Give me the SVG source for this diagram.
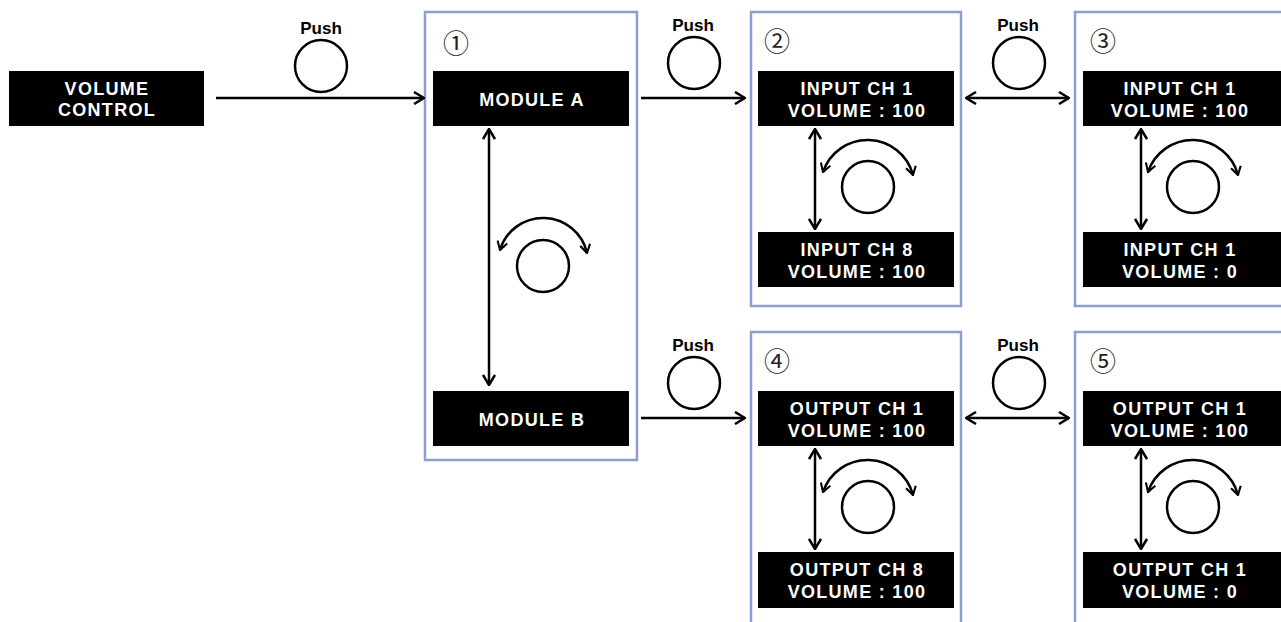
<svg xmlns="http://www.w3.org/2000/svg" width="1281" height="622" viewBox="0 0 1281 622">
<style>
.frame{fill:#fff;stroke:#8C9ECF;stroke-width:2.5}
.blk{fill:#000}
.wt{fill:#fff;font-family:"Liberation Sans",Arial,sans-serif;font-weight:700;font-size:18px;letter-spacing:1.3px;text-anchor:middle}
.push{fill:#000;font-family:"Liberation Sans",Arial,sans-serif;font-weight:700;font-size:17px;text-anchor:middle}
.num{fill:#222;font-family:"Noto Sans CJK KR","DejaVu Sans",sans-serif;font-size:26px;text-anchor:middle}
.knob{fill:none;stroke:#000;stroke-width:2.5}
.ln{fill:none;stroke:#000;stroke-width:2.5}
</style>
<defs>
<marker id="ah" viewBox="0 0 12 14" refX="11" refY="7" markerWidth="12" markerHeight="14" markerUnits="userSpaceOnUse" orient="auto-start-reverse">
<path d="M1,1 L11,7 L1,13" fill="none" stroke="#000" stroke-width="2.5" stroke-linejoin="miter"/>
</marker>
<marker id="ahs" viewBox="0 0 12 14" refX="11" refY="7" markerWidth="10" markerHeight="12" markerUnits="userSpaceOnUse" orient="auto-start-reverse">
<path d="M1,1 L11,7 L1,13" fill="none" stroke="#000" stroke-width="2.5"/>
</marker>
</defs>
<rect width="1281" height="622" fill="#fff"/>

<g id="volume-control">
<rect class="blk" x="9" y="71" width="195" height="55"/>
<text class="wt" x="107" y="95">VOLUME</text>
<text class="wt" x="107" y="116">CONTROL</text>
</g>

<g id="panel-1">
<rect class="frame" x="425" y="12" width="212" height="448"/>
<text class="num" x="456" y="53">①</text>
<g id="module-a">
<rect class="blk" x="433" y="71" width="196" height="55"/>
<text class="wt" x="532" y="105.5">MODULE A</text>
</g>
<g id="module-b">
<rect class="blk" x="433" y="391" width="196" height="55"/>
<text class="wt" x="532" y="425.5">MODULE B</text>
</g>
<circle class="knob" cx="543" cy="266" r="26"/>
<path class="ln" d="M500 250 A45 45 0 0 1 587 253" marker-start="url(#ahs)" marker-end="url(#ahs)"/>
</g>

<g id="panel-2">
<rect class="frame" x="751" y="12" width="210" height="294"/>
<text class="num" x="777" y="51">②</text>
<rect class="blk" x="758" y="71" width="196" height="55"/>
<text class="wt" x="857" y="95">INPUT CH 1</text>
<text class="wt" x="857" y="116.5">VOLUME : 100</text>
<rect class="blk" x="758" y="232" width="196" height="55"/>
<text class="wt" x="857" y="256">INPUT CH 8</text>
<text class="wt" x="857" y="277.5">VOLUME : 100</text>
<circle class="knob" cx="868" cy="187" r="26"/>
<path class="ln" d="M823 172 A47 47 0 0 1 913 175" marker-start="url(#ahs)" marker-end="url(#ahs)"/>
</g>

<g id="panel-3">
<rect class="frame" x="1075" y="12" width="212" height="294"/>
<text class="num" x="1103" y="51">③</text>
<rect class="blk" x="1083" y="71" width="198" height="55"/>
<text class="wt" x="1180" y="95">INPUT CH 1</text>
<text class="wt" x="1180" y="116.5">VOLUME : 100</text>
<rect class="blk" x="1083" y="232" width="198" height="55"/>
<text class="wt" x="1180" y="256">INPUT CH 1</text>
<text class="wt" x="1180" y="277.5">VOLUME : 0</text>
<circle class="knob" cx="1193" cy="187" r="26"/>
<path class="ln" d="M1148 172 A47 47 0 0 1 1238 175" marker-start="url(#ahs)" marker-end="url(#ahs)"/>
</g>

<g id="panel-4">
<rect class="frame" x="751" y="332" width="210" height="300"/>
<text class="num" x="777" y="371">④</text>
<rect class="blk" x="758" y="391" width="196" height="55"/>
<text class="wt" x="857" y="415">OUTPUT CH 1</text>
<text class="wt" x="857" y="436.5">VOLUME : 100</text>
<rect class="blk" x="758" y="552" width="196" height="56"/>
<text class="wt" x="857" y="576">OUTPUT CH 8</text>
<text class="wt" x="857" y="597.5">VOLUME : 100</text>
<circle class="knob" cx="868" cy="507" r="26"/>
<path class="ln" d="M823 492 A47 47 0 0 1 913 495" marker-start="url(#ahs)" marker-end="url(#ahs)"/>
</g>

<g id="panel-5">
<rect class="frame" x="1075" y="332" width="212" height="300"/>
<text class="num" x="1103" y="371">⑤</text>
<rect class="blk" x="1083" y="391" width="198" height="55"/>
<text class="wt" x="1180" y="415">OUTPUT CH 1</text>
<text class="wt" x="1180" y="436.5">VOLUME : 100</text>
<rect class="blk" x="1083" y="552" width="198" height="56"/>
<text class="wt" x="1180" y="576">OUTPUT CH 1</text>
<text class="wt" x="1180" y="597.5">VOLUME : 0</text>
<circle class="knob" cx="1193" cy="507" r="26"/>
<path class="ln" d="M1148 492 A47 47 0 0 1 1238 495" marker-start="url(#ahs)" marker-end="url(#ahs)"/>
</g>

<g id="push-buttons">
<text class="push" x="321" y="34">Push</text>
<circle class="knob" cx="321" cy="66" r="26"/>
<text class="push" x="693" y="31">Push</text>
<circle class="knob" cx="694" cy="63" r="26"/>
<text class="push" x="1018" y="31">Push</text>
<circle class="knob" cx="1019" cy="63" r="26"/>
<text class="push" x="693" y="351">Push</text>
<circle class="knob" cx="694" cy="383" r="26"/>
<text class="push" x="1018" y="351">Push</text>
<circle class="knob" cx="1019" cy="383" r="26"/>
</g>

<g id="connectors">
<line class="ln" x1="216" y1="98" x2="424" y2="98" marker-end="url(#ah)"/>
<line class="ln" x1="641" y1="98" x2="745" y2="98" marker-end="url(#ah)"/>
<line class="ln" x1="966" y1="98" x2="1069" y2="98" marker-start="url(#ah)" marker-end="url(#ah)"/>
<line class="ln" x1="641" y1="418" x2="745" y2="418" marker-end="url(#ah)"/>
<line class="ln" x1="966" y1="418" x2="1069" y2="418" marker-start="url(#ah)" marker-end="url(#ah)"/>
<line class="ln" x1="489" y1="129" x2="489" y2="385" marker-start="url(#ah)" marker-end="url(#ah)"/>
<line class="ln" x1="815" y1="129" x2="815" y2="229" marker-start="url(#ah)" marker-end="url(#ah)"/>
<line class="ln" x1="1141" y1="129" x2="1141" y2="229" marker-start="url(#ah)" marker-end="url(#ah)"/>
<line class="ln" x1="815" y1="449" x2="815" y2="549" marker-start="url(#ah)" marker-end="url(#ah)"/>
<line class="ln" x1="1141" y1="449" x2="1141" y2="549" marker-start="url(#ah)" marker-end="url(#ah)"/>
</g>
</svg>
